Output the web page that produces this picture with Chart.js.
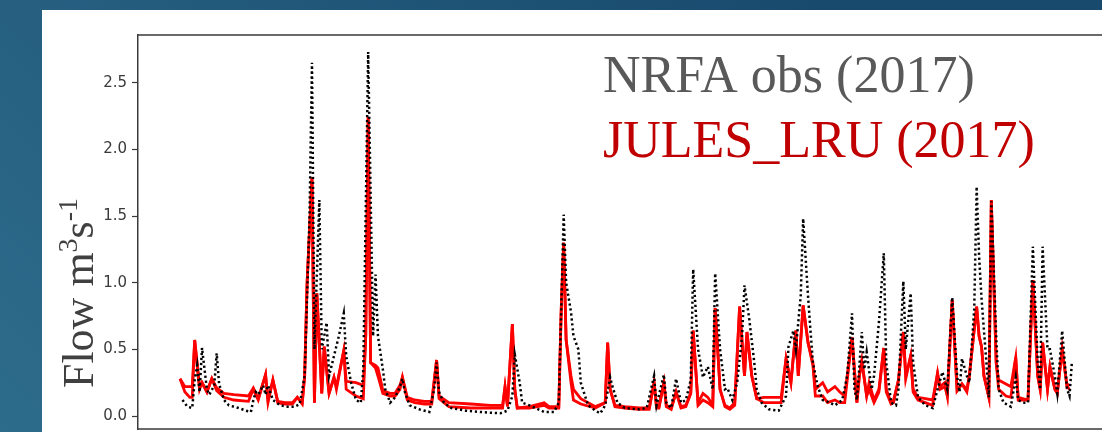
<!DOCTYPE html>
<html>
<head>
<meta charset="utf-8">
<script src="https://cdn.jsdelivr.net/npm/chart.js@4.4.1/dist/chart.umd.min.js"></script>
<style>
  body { margin: 0; background: #1d5276; }
  canvas { display: block; }
</style>
</head>
<body>
<canvas id="flowChart" width="1102" height="432"></canvas>
<script>
  // day of year for each NRFA reading
  const obsDay = [
    1, 3, 5, 6, 7, 8, 9, 11, 12, 14,
    15, 16, 18, 20, 24, 27, 29, 30, 31, 32,
    34, 35, 36, 38, 41, 44, 47, 49, 51, 53,
    54, 55, 57, 58, 60, 61, 63, 65, 67, 68,
    70, 72, 74, 75, 77, 79, 80, 81, 83, 84,
    86, 88, 90, 91, 92, 94, 98, 102, 104, 105,
    106, 108, 111, 117, 123, 131, 134, 136, 137, 139,
    140, 143, 149, 153, 155, 156, 157, 158, 160, 161,
    163, 164, 167, 170, 172, 174, 176, 177, 179, 182,
    188, 191, 194, 195, 198, 199, 201, 203, 205, 207,
    209, 210, 212, 214, 216, 218, 219, 221, 223, 224,
    226, 228, 230, 231, 233, 235, 236, 238, 241, 245,
    248, 249, 251, 252, 254, 255, 257, 258, 259, 261,
    263, 266, 268, 271, 273, 275, 276, 277, 279, 280,
    281, 283, 284, 286, 288, 289, 291, 293, 294, 296,
    297, 299, 300, 302, 305, 308, 310, 312, 314, 316,
    318, 319, 320, 322, 323, 325, 326, 327, 328, 330,
    331, 332, 334, 335, 337, 340, 342, 343, 345, 347,
    349, 351, 352, 353, 355, 356, 358, 359, 361, 363,
    364, 365
  ];
  const obsFlow = [
    0.12, 0.07, 0.06, 0.27, 0.38, 0.18, 0.51, 0.20, 0.16, 0.23,
    0.47, 0.24, 0.12, 0.08, 0.06, 0.04, 0.03, 0.12, 0.18, 0.16,
    0.23, 0.16, 0.23, 0.12, 0.08, 0.07, 0.07, 0.09, 0.30, 1.50,
    2.65, 0.50, 1.62, 0.50, 0.70, 0.30, 0.45, 0.60, 0.77, 0.45,
    0.25, 0.12, 0.10, 0.35, 2.73, 0.60, 1.06, 0.60, 0.35, 0.20,
    0.10, 0.14, 0.22, 0.28, 0.18, 0.08, 0.05, 0.03, 0.20, 0.40,
    0.18, 0.10, 0.06, 0.04, 0.03, 0.02, 0.04, 0.15, 0.46, 0.25,
    0.10, 0.08, 0.03, 0.03, 0.10, 0.80, 1.51, 1.00, 0.78, 0.60,
    0.50, 0.25, 0.08, 0.04, 0.02, 0.08, 0.29, 0.22, 0.10, 0.06,
    0.05, 0.06, 0.30, 0.08, 0.31, 0.10, 0.06, 0.28, 0.10, 0.12,
    0.27, 1.10, 0.50, 0.29, 0.37, 0.20, 1.07, 0.50, 0.20, 0.21,
    0.12, 0.25, 0.60, 0.98, 0.72, 0.40, 0.20, 0.10, 0.05, 0.04,
    0.15, 0.52, 0.64, 0.50, 0.90, 1.48, 0.90, 0.64, 0.40, 0.22,
    0.12, 0.10, 0.08, 0.12, 0.30, 0.77, 0.20, 0.12, 0.63, 0.35,
    0.48, 0.20, 0.30, 0.70, 1.22, 0.40, 0.10, 0.08, 0.20, 1.01,
    0.50, 0.92, 0.40, 0.14, 0.08, 0.06, 0.20, 0.33, 0.20, 0.89,
    0.30, 0.18, 0.43, 0.30, 0.25, 0.80, 1.72, 1.20, 0.88, 0.40,
    0.14, 1.61, 0.60, 0.20, 0.10, 0.07, 0.29, 0.12, 0.10, 0.10,
    1.27, 0.40, 0.20, 1.27, 0.50, 0.50, 0.30, 0.17, 0.64, 0.20,
    0.15, 0.41
  ];

  // JULES_LRU runs (two members, same days)
  const lruDay = [
    0, 2, 4, 5, 6, 8, 9, 11, 13, 15,
    18, 22, 28, 30, 32, 35, 36, 38, 40, 43,
    46, 48, 50, 51, 52, 54, 55, 56, 58, 59,
    61, 63, 64, 67, 68, 72, 75, 76, 77, 78,
    80, 81, 83, 86, 88, 90, 91, 93, 96, 100,
    103, 105, 106, 110, 119, 127, 132, 133, 134, 136,
    137, 138, 143, 149, 151, 155, 156, 157, 158, 160,
    161, 164, 170, 174, 175, 176, 178, 182, 188, 192,
    194, 195, 196, 198, 199, 201, 203, 205, 207, 209,
    210, 212, 214, 216, 218, 219, 221, 223, 225, 227,
    229, 231, 232, 234, 236, 239, 243, 246, 248, 250,
    252, 253, 255, 257, 259, 260, 263, 265, 268, 270,
    272, 275, 277, 278, 279, 281, 282, 284, 286, 288,
    289, 291, 292, 294, 296, 297, 299, 300, 302, 305,
    308, 310, 311, 313, 314, 316, 318, 320, 322, 323,
    326, 327, 328, 329, 331, 332, 334, 335, 338, 340,
    342, 343, 347, 349, 351, 352, 353, 355, 356, 358,
    359, 361, 363, 364
  ];
  const lruFlowA = [
    0.28, 0.22, 0.22, 0.22, 0.57, 0.22, 0.25, 0.18, 0.28, 0.21,
    0.17, 0.16, 0.15, 0.21, 0.13, 0.31, 0.12, 0.27, 0.11, 0.10,
    0.10, 0.14, 0.10, 0.30, 1.00, 1.79, 0.10, 0.92, 0.17, 0.52,
    0.17, 0.29, 0.22, 0.49, 0.26, 0.25, 0.23, 0.60, 2.24, 0.40,
    0.38, 0.36, 0.19, 0.17, 0.17, 0.23, 0.29, 0.14, 0.12, 0.11,
    0.11, 0.42, 0.15, 0.10, 0.09, 0.08, 0.08, 0.22, 0.08, 0.69,
    0.20, 0.06, 0.07, 0.10, 0.07, 0.07, 0.80, 1.30, 0.57, 0.30,
    0.20, 0.13, 0.07, 0.10, 0.55, 0.20, 0.08, 0.07, 0.06, 0.06,
    0.25, 0.07, 0.07, 0.25, 0.08, 0.06, 0.18, 0.07, 0.08, 0.17,
    0.64, 0.10, 0.17, 0.14, 0.08, 0.81, 0.20, 0.08, 0.06, 0.10,
    0.82, 0.30, 0.63, 0.30, 0.13, 0.14, 0.14, 0.14, 0.43, 0.25,
    0.64, 0.30, 0.83, 0.55, 0.40, 0.20, 0.25, 0.18, 0.22, 0.18,
    0.15, 0.59, 0.10, 0.30, 0.41, 0.15, 0.25, 0.12, 0.20, 0.51,
    0.20, 0.10, 0.12, 0.27, 0.63, 0.30, 0.45, 0.20, 0.14, 0.13,
    0.12, 0.32, 0.22, 0.25, 0.15, 0.87, 0.19, 0.24, 0.20, 0.30,
    0.82, 0.60, 0.52, 0.30, 0.14, 1.62, 0.40, 0.27, 0.24, 0.22,
    0.44, 0.14, 0.12, 1.02, 0.30, 0.20, 0.55, 0.20, 0.37, 0.20,
    0.17, 0.50, 0.22, 0.24
  ];
  const lruFlowB = [
    0.28, 0.18, 0.14, 0.14, 0.57, 0.20, 0.25, 0.18, 0.28, 0.19,
    0.14, 0.12, 0.11, 0.20, 0.12, 0.31, 0.10, 0.27, 0.10, 0.09,
    0.09, 0.14, 0.09, 0.30, 1.00, 1.79, 0.10, 0.92, 0.17, 0.52,
    0.17, 0.29, 0.20, 0.49, 0.20, 0.15, 0.13, 0.60, 2.24, 0.40,
    0.36, 0.30, 0.17, 0.15, 0.15, 0.20, 0.29, 0.12, 0.10, 0.09,
    0.09, 0.42, 0.13, 0.07, 0.06, 0.06, 0.06, 0.22, 0.07, 0.69,
    0.20, 0.06, 0.06, 0.08, 0.06, 0.06, 0.80, 1.30, 0.57, 0.25,
    0.12, 0.09, 0.06, 0.10, 0.55, 0.20, 0.07, 0.06, 0.05, 0.05,
    0.25, 0.06, 0.06, 0.25, 0.07, 0.05, 0.18, 0.06, 0.07, 0.17,
    0.64, 0.08, 0.12, 0.10, 0.07, 0.81, 0.20, 0.07, 0.05, 0.08,
    0.82, 0.30, 0.63, 0.30, 0.13, 0.10, 0.10, 0.10, 0.43, 0.25,
    0.64, 0.30, 0.83, 0.55, 0.38, 0.15, 0.15, 0.10, 0.12, 0.10,
    0.10, 0.59, 0.10, 0.30, 0.41, 0.15, 0.20, 0.10, 0.18, 0.51,
    0.18, 0.09, 0.10, 0.27, 0.63, 0.28, 0.45, 0.18, 0.12, 0.10,
    0.08, 0.32, 0.20, 0.22, 0.15, 0.87, 0.19, 0.24, 0.18, 0.30,
    0.82, 0.60, 0.52, 0.30, 0.14, 1.62, 0.40, 0.20, 0.15, 0.14,
    0.44, 0.12, 0.12, 1.02, 0.30, 0.20, 0.55, 0.20, 0.37, 0.20,
    0.17, 0.50, 0.22, 0.20
  ];

  const yTicks = [0, 0.5, 1, 1.5, 2, 2.5];
  const legendLabels = ['NRFA obs (2017)', 'JULES_LRU (2017)'];
  const yTitleParts = [
    { text: 'Flow m', sup: false },
    { text: '3', sup: true },
    { text: 's', sup: false },
    { text: '-1', sup: true }
  ];

  const toPoints = (days, vals) => days.map((d, i) => ({ x: d, y: vals[i] }));

  // slide background, white panel, frame and the text overlays
  const slidePlugin = {
    id: 'slide',
    beforeDraw(chart) {
      const ctx = chart.ctx;
      const g = ctx.createLinearGradient(0, 432, 600, -200);
      g.addColorStop(0, '#2e6c8c');
      g.addColorStop(1, '#184a6e');
      ctx.save();
      ctx.fillStyle = g;
      ctx.fillRect(0, 0, chart.width, chart.height);
      ctx.fillStyle = '#ffffff';
      ctx.fillRect(42, 10, chart.width - 42, chart.height - 10);
      ctx.restore();
    },
    beforeDatasetsDraw(chart) {
      const { ctx, chartArea: a } = chart;
      ctx.save();
      ctx.strokeStyle = '#3a3a3a';
      ctx.lineWidth = 1.5;
      ctx.beginPath();
      ctx.moveTo(a.left, a.top);
      ctx.lineTo(a.right, a.top);
      ctx.moveTo(a.left, a.bottom);
      ctx.lineTo(a.right, a.bottom);
      ctx.stroke();
      ctx.restore();
    },
    afterDraw(chart) {
      const ctx = chart.ctx;
      ctx.save();
      ctx.textBaseline = 'alphabetic';
      ctx.font = '52px "Liberation Serif"';
      ctx.fillStyle = '#595959';
      ctx.fillText(legendLabels[0], 603, 92);
      ctx.fillStyle = '#c00000';
      ctx.fillText(legendLabels[1], 603, 157);

      ctx.translate(93, 293);
      ctx.rotate(-Math.PI / 2);
      ctx.fillStyle = '#404040';
      const big = '44px "Liberation Serif"';
      const small = '28px "Liberation Serif"';
      let w = 0;
      yTitleParts.forEach(p => {
        ctx.font = p.sup ? small : big;
        w += ctx.measureText(p.text).width;
      });
      let x = -w / 2;
      yTitleParts.forEach(p => {
        ctx.font = p.sup ? small : big;
        ctx.fillText(p.text, x, p.sup ? -16 : 0);
        x += ctx.measureText(p.text).width;
      });
      ctx.restore();
    }
  };

  const ctx = document.getElementById('flowChart').getContext('2d');

  new Chart(ctx, {
    type: 'line',
    data: {
      datasets: [
        {
          label: legendLabels[0],
          data: toPoints(obsDay, obsFlow),
          borderColor: '#000000',
          borderWidth: 2.5,
          borderDash: [2.2, 2.8],
          pointRadius: 0,
          tension: 0
        },
        {
          label: legendLabels[1],
          data: toPoints(lruDay, lruFlowA),
          borderColor: '#ff0000',
          borderWidth: 2.8,
          pointRadius: 0,
          tension: 0
        },
        {
          label: legendLabels[1] + ' b',
          data: toPoints(lruDay, lruFlowB),
          borderColor: '#ff0000',
          borderWidth: 2.8,
          pointRadius: 0,
          tension: 0
        }
      ]
    },
    options: {
      responsive: false,
      animation: false,
      layout: { padding: { left: 42, top: 35, right: 0, bottom: 3 } },
      plugins: {
        legend: { display: false },
        tooltip: { enabled: false }
      },
      scales: {
        x: {
          type: 'linear',
          display: false,
          min: -17.2,
          max: 377.3
        },
        y: {
          min: -0.0975,
          max: 2.8575,
          afterBuildTicks: scale => {
            scale.ticks = yTicks.map(v => ({ value: v }));
          },
          afterFit: scale => {
            scale.width = 96;
            scale.paddingTop = 0;
            scale.paddingBottom = 0;
          },
          border: { display: true, color: '#3a3a3a', width: 1.5 },
          grid: {
            drawOnChartArea: false,
            drawTicks: true,
            tickLength: 6,
            tickColor: '#3a3a3a',
            tickWidth: 1.2
          },
          ticks: {
            padding: 5,
            color: '#3a3a3a',
            font: { family: 'DejaVu Sans', size: 15 },
            callback: v => v.toFixed(1)
          }
        }
      }
    },
    plugins: [slidePlugin]
  });
</script>
</body>
</html>
